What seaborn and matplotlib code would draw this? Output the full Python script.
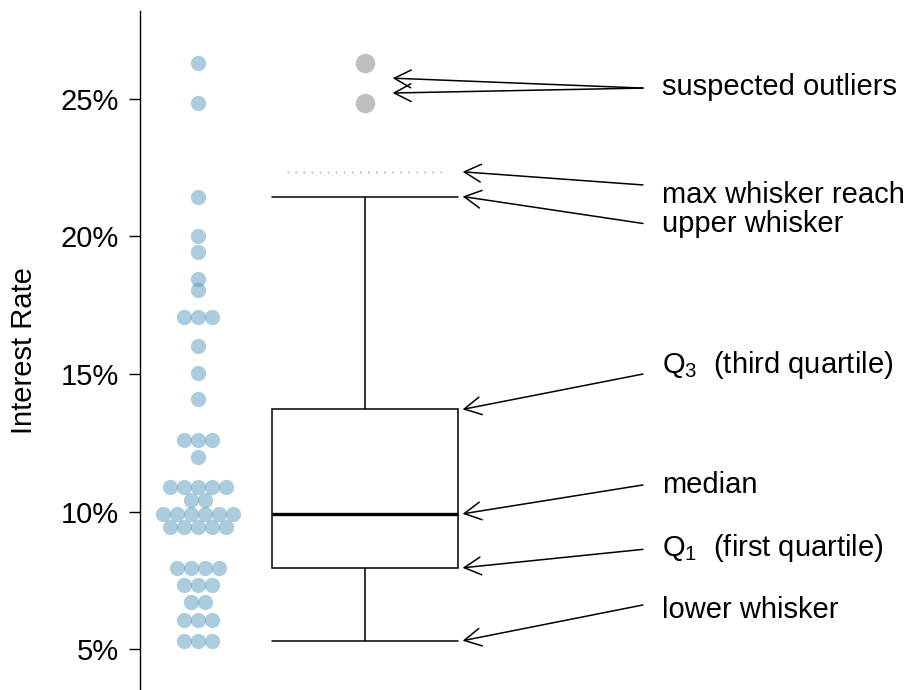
import numpy as np
import pandas as pd
import seaborn as sns
from matplotlib import pyplot as plt

sns.set_style("ticks")
plt.rcParams['font.family'] = ['Liberation Sans', 'DejaVu Sans']
plt.rcParams['mathtext.fontset'] = 'custom'
plt.rcParams['mathtext.rm'] = 'Liberation Sans'
plt.rcParams['mathtext.it'] = 'Liberation Sans:italic'
for k in ['text.color', 'axes.labelcolor', 'xtick.color', 'ytick.color']:
    plt.rcParams[k] = 'black'

# interest rates (%) of the 50 loans
rates = [5.31, 5.31, 5.31, 6.08, 6.08, 6.08, 6.72, 6.72, 7.35, 7.35, 7.35,
         7.96, 7.96, 7.96, 7.96, 9.43, 9.43, 9.43, 9.43, 9.43,
         9.92, 9.92, 9.92, 9.92, 9.92, 9.92, 10.42, 10.42,
         10.90, 10.90, 10.90, 10.90, 10.90, 11.98, 12.62, 12.62, 12.62,
         14.08, 15.04, 16.02, 17.09, 17.09, 17.09, 18.06, 18.45, 19.42,
         20.00, 21.45, 24.85, 26.30]
ytick_vals = [5, 10, 15, 20, 25]
ytick_labels = ["5%", "10%", "15%", "20%", "25%"]

# annotation texts, their baselines and where the arrow tails start
labels = ["suspected outliers", "max whisker reach", "upper whisker",
          r"Q$_3$  (third quartile)", "median",
          r"Q$_1$  (first quartile)", "lower whisker"]
label_y = [25.13, 21.22, 20.16, 15.04, 10.68, 8.38, 6.14]
tail_y = [25.39, 21.87, 20.47, 15.00, 10.97, 8.63, 6.61]
outlier_heads = [25.75, 25.21]

# stacked dot column: equal values side by side
df = pd.DataFrame({"rate": rates})
df["slot"] = df.groupby("rate").cumcount()
df["n"] = df.groupby("rate")["rate"].transform("size")
df["x"] = (df["slot"] - (df["n"] - 1) / 2) * 0.084
df["box"] = 1.0

q1, med, q3 = np.percentile(rates, [25, 50, 75])
iqr = q3 - q1
reach = q3 + 1.5 * iqr
upper = max(r for r in rates if r <= reach)
lower = min(r for r in rates if r >= q1 - 1.5 * iqr)

fig = plt.figure(figsize=(9.12, 6.9), dpi=100)
ax = fig.add_axes([140 / 912, 0, 772 / 912, 679 / 690])

sns.scatterplot(data=df, x="x", y="rate", s=121, color="#569BBD", alpha=0.5,
                linewidth=0, ax=ax, zorder=3)

bw = 1.114
sns.boxplot(data=df, x="box", y="rate", native_scale=True, orient="x",
            width=bw, color="white", linecolor="black", linewidth=1.1,
            fliersize=13, capwidths=bw, ax=ax,
            flierprops=dict(marker="o", markerfacecolor="#BEBEBE",
                            markeredgecolor="#BEBEBE"),
            medianprops=dict(linewidth=2.4, color="black"))

# max whisker reach
ax.hlines(reach, 1 - 0.467, 1 + 0.467, colors="#A0A0A0", lw=1.0,
          linestyles=(0, (1, 4.8)))

ap = dict(arrowstyle="->,head_length=0.6,head_width=0.32", lw=1.1,
          color="black", shrinkA=0, shrinkB=0, mutation_scale=20)
tail_x = 2.663
for hy in outlier_heads:
    ax.annotate("", xy=(1.164, hy), xytext=(tail_x, tail_y[0]), arrowprops=ap)
heads = [reach, upper, q3, med, q1, lower]
for hy, ty in zip(heads, tail_y[1:]):
    ax.annotate("", xy=(1.583, hy), xytext=(tail_x, ty), arrowprops=ap)
for lab, ly in zip(labels, label_y):
    ax.text(2.777, ly, lab, fontsize=21, va="baseline", ha="left")

ax.set_xlim(-0.349, 4.274)
ax.set_ylim(3.52, 28.19)
ax.set_yticks(ytick_vals)
ax.set_yticklabels(ytick_labels, fontsize=21)
ax.tick_params(axis="y", length=8, width=1, pad=7, color="black")
ax.set_xticks([])
ax.set_xlabel("")
ax.set_ylabel("Interest Rate", fontsize=21)
ax.yaxis.set_label_coords((38 - 140) / 772, 0.5)
for s in ["top", "right", "bottom"]:
    ax.spines[s].set_visible(False)
ax.spines["left"].set_linewidth(1.0)
ax.spines["left"].set_color("black")

fig.savefig("out.png", dpi=100)
